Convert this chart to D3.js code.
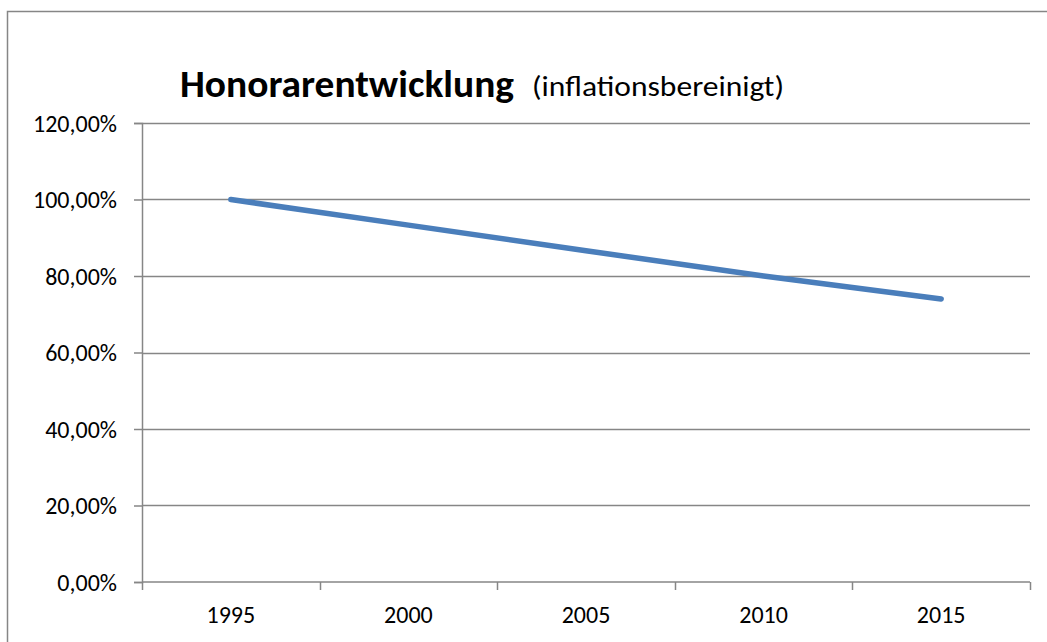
<!DOCTYPE html>
<html>
<head>
<meta charset="utf-8">
<script src="https://cdn.jsdelivr.net/npm/d3@7"></script>
<style>
	html, body { margin:0; padding:0; background:#fff; }
	#chart { width:1047px; height:642px; }
	text { font-family: Calibri, Carlito, Lato, sans-serif; fill:#000; }
</style>
</head>
<body>
<div id="chart"></div>
<script>

const years = ["1995","2000","2005","2010","2015"];
const values = [1.00, 0.933, 0.866, 0.80, 0.74];
const yTicks = [0, 0.2, 0.4, 0.6, 0.8, 1.0, 1.2];

const titleMain = "Honorarentwicklung";
const titleSub = "(inflationsbereinigt)";

function drawChart(rootDOM){

	const W = 1047;
	const H = 642;
	const m = {t:123,r:17,b:60,l:142};

	const svg = d3.select(rootDOM)
		.append("svg")
		.attr("width", W)
		.attr("height", H);

	// outer chart frame (runs off the right/bottom edge)
	svg.append("rect")
		.attr("x",7.5)
		.attr("y",11.5)
		.attr("width",W)
		.attr("height",H)
		.style("fill","none")
		.style("stroke","#868686")
		.style("stroke-width",1.5);

	const x = d3.scaleBand()
		.domain(years)
		.range([m.l, W - m.r])
		.padding(0);

	const y = d3.scaleLinear()
		.domain([0,1.2])
		.range([H - m.b, m.t]);

	const fmt = v => d3.format(".2f")(v*100).replace(".",",") + "%";

	// horizontal gridlines
	svg.append("g")
		.selectAll("line")
		.data(yTicks.filter(d => d > 0))
		.enter()
		.append("line")
		.attr("x1", m.l)
		.attr("x2", W - m.r)
		.attr("y1", d => Math.round(y(d)) + 0.5)
		.attr("y2", d => Math.round(y(d)) + 0.5)
		.style("stroke","#868686")
		.style("stroke-width",1.5);

	// y axis
	const yAxis = svg.append("g")
		.attr("transform", `translate(${m.l},0)`)
		.call(d3.axisLeft(y).tickValues(yTicks).tickFormat(fmt).tickSize(8).tickPadding(17));

	yAxis.select(".domain").style("stroke","#868686").style("stroke-width",1.5);
	yAxis.selectAll(".tick line").style("stroke","#868686").style("stroke-width",1.5);
	yAxis.selectAll("text")
		.attr("dy","0.35em")
		.style("font-size","24px")
		.style("font-family","Calibri, Carlito, Lato, sans-serif")
		.style("fill","#000");

	// x axis, ticks between categories
	const xAxis = svg.append("g")
		.attr("transform", `translate(0,${y(0)})`);

	xAxis.append("line")
		.attr("x1", m.l)
		.attr("x2", W - m.r)
		.style("stroke","#868686")
		.style("stroke-width",1.5);

	xAxis.selectAll(".tk")
		.data(years.concat(["end"]))
		.enter()
		.append("line")
		.attr("class","tk")
		.attr("x1", (d,i) => Math.round(m.l + i*x.bandwidth()) + 0.5)
		.attr("x2", (d,i) => Math.round(m.l + i*x.bandwidth()) + 0.5)
		.attr("y1",0)
		.attr("y2",8)
		.style("stroke","#868686")
		.style("stroke-width",1.5);

	xAxis.selectAll(".lbl")
		.data(years)
		.enter()
		.append("text")
		.attr("class","lbl")
		.attr("x", d => x(d) + x.bandwidth()/2)
		.attr("y", 41)
		.attr("text-anchor","middle")
		.style("font-size","24px")
		.text(d => d);

	// series line
	const line = d3.line()
		.x((d,i) => x(years[i]) + x.bandwidth()/2)
		.y(d => y(d));

	svg.append("path")
		.datum(values)
		.attr("d", line)
		.style("fill","none")
		.style("stroke","#4A7EBB")
		.style("stroke-width",5.5)
		.style("stroke-linecap","round")
		.style("stroke-linejoin","round");

	// title
	const title = svg.append("g");

	title.append("text")
		.attr("x",180)
		.attr("y",97)
		.style("font-size","38px")
		.style("font-weight","bold")
		.attr("textLength",334)
		.attr("lengthAdjust","spacingAndGlyphs")
		.text(titleMain);

	title.append("text")
		.attr("x",532)
		.attr("y",96)
		.style("font-size","28px")
		.attr("textLength",252)
		.attr("lengthAdjust","spacingAndGlyphs")
		.text(titleSub);
}

drawChart(document.getElementById("chart"));
</script>
</body>
</html>
